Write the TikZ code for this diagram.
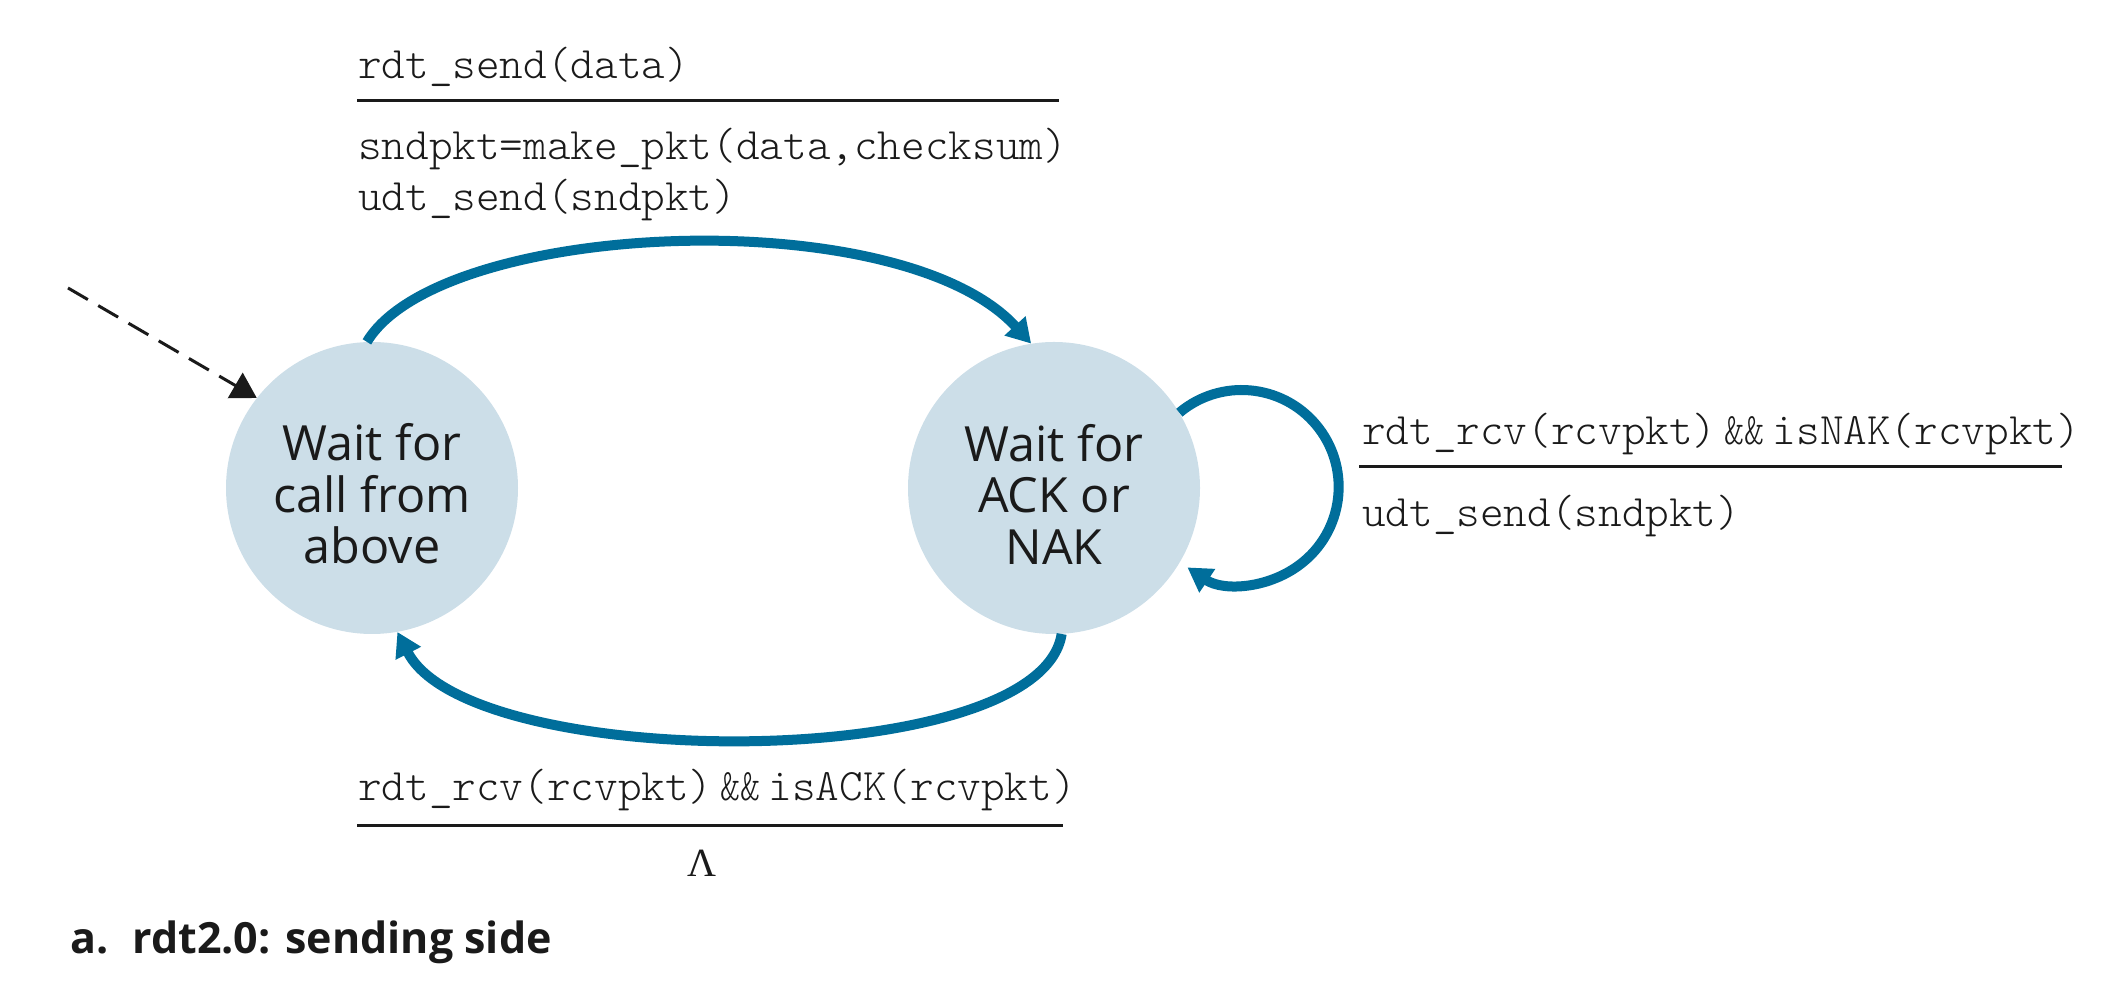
\documentclass[tikz,border=0pt]{standalone}
\usepackage{fontspec}
\usepackage{graphicx}
\newfontfamily\statefont{Open Sans}
\newfontfamily\capfont{Open Sans}
\newfontfamily\greekfont{Liberation Serif}
\newfontfamily\lightmono{lmmonolt10-regular.otf}
\newcommand{\andand}{\hspace{8pt}\scalebox{0.85}[1]{\&\&}\hspace{8pt}}
\usetikzlibrary{arrows.meta}
\definecolor{stfill}{RGB}{204,222,232}
\definecolor{arblue}{RGB}{0,110,155}
\definecolor{ink}{RGB}{26,26,26}
\begin{document}
\begin{tikzpicture}[x=1pt,y=1pt,
  state/.style={circle, fill=stfill, minimum size=292pt, inner sep=0pt},
  statetext/.style={inner sep=0pt, align=center, text=ink, font=\statefont\fontsize{48.5}{51.5}\selectfont},
  trans/.style={draw=arblue, line width=10pt, -{Triangle[length=24pt,width=27pt]}},
  initarrow/.style={draw=ink, line width=3pt, dash pattern=on 23pt off 12pt, -{Triangle[length=25pt,width=29pt]}},
  lbl/.style={anchor=west, inner sep=0pt, text=ink, text height=34pt, text depth=11pt, font=\lightmono\fontsize{45}{54}\selectfont},
  sepline/.style={draw=ink, line width=3pt}]
\useasboundingbox (0,0) rectangle (2110,1000);

\node[state] (L) at (372,512) {};
\node[state] (R) at (1054,512) {};
\node[statetext] (Lt) at ([yshift=-6pt]L.center) {Wait for\\call from\\above};
\node[statetext] (Rt) at ([yshift=-6pt]R.center) {Wait for\\ACK or\\NAK};

\coordinate (init) at (68,712);
\draw[initarrow] (init) -- (L.142);

\draw[trans] (L.92) .. controls (440,780) and (900,800) .. (R.99);
\draw[trans] (R.-87) .. controls (1040,226) and (470,226) .. (L.-80);
\draw[trans] (R.31) arc[start angle=130, end angle=-124, radius=97];

\node[lbl] (t1) at (358,933) {rdt\_send(data)};
\draw[sepline] (357,899) -- (1059,899);
\node[lbl] (t2) at (358,852) {sndpkt=make\_pkt(data,checksum)};
\node[lbl] (t3) at (358,801) {udt\_send(sndpkt)};

\node[lbl] (n1) at (1362,567) {rdt\_rcv(rcvpkt)\andand isNAK(rcvpkt)};
\draw[sepline] (1359,533) -- (2062,533);
\node[lbl] (n2) at (1362,485) {udt\_send(sndpkt)};

\node[lbl] (a1) at (358,211) {rdt\_rcv(rcvpkt)\andand isACK(rcvpkt)};
\draw[sepline] (357,174) -- (1063,174);
\node[inner sep=0pt, text=ink, font=\greekfont\fontsize{40}{48}\selectfont] (lam) at (702,137) {Λ};

\node[anchor=west, inner sep=0pt, text=ink, font=\capfont\bfseries\fontsize{43}{52}\selectfont] (cap) at (70,58) {a.\hspace{24pt}rdt2.0: sending side};
\end{tikzpicture}
\end{document}
